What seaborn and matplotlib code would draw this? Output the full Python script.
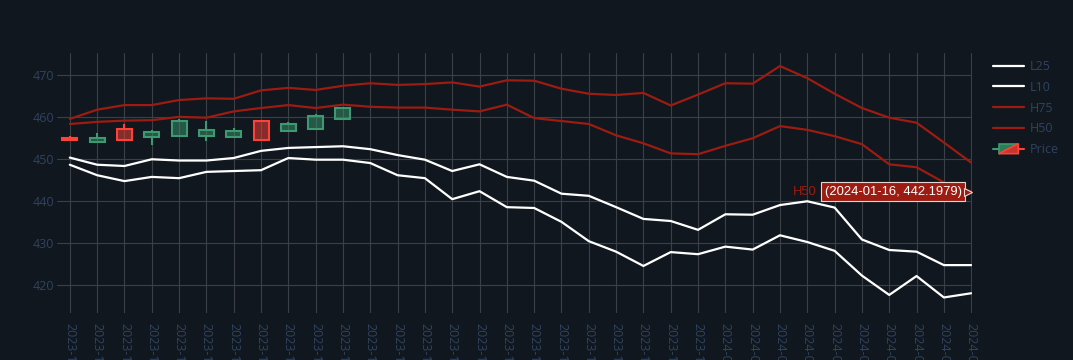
import numpy as np
import pandas as pd
import seaborn as sns
import matplotlib
matplotlib.use("Agg")
import matplotlib.pyplot as plt
import matplotlib.patches as mpatches
import matplotlib.transforms as mtransforms
from matplotlib.lines import Line2D
from matplotlib.legend_handler import HandlerBase

# trading days shown on the categorical x axis
dates = ["2023-11-27", "2023-11-28", "2023-11-29", "2023-11-30", "2023-12-01",
         "2023-12-04", "2023-12-05", "2023-12-06", "2023-12-07", "2023-12-08",
         "2023-12-11", "2023-12-12", "2023-12-13", "2023-12-14", "2023-12-15",
         "2023-12-18", "2023-12-19", "2023-12-20", "2023-12-21", "2023-12-22",
         "2023-12-26", "2023-12-27", "2023-12-28", "2023-12-29", "2024-01-02",
         "2024-01-03", "2024-01-04", "2024-01-05", "2024-01-08", "2024-01-09",
         "2024-01-10", "2024-01-11", "2024-01-12", "2024-01-16"]

l25 = [450.3, 448.6, 448.3, 449.9, 449.6, 449.6, 450.2, 451.9, 452.6, 452.8,
       453.0, 452.3, 450.9, 449.8, 447.1, 448.7, 445.7, 444.8, 441.7, 441.2,
       438.5, 435.7, 435.2, 433.1, 436.8, 436.7, 439.0, 439.9, 438.4, 430.8,
       428.3, 427.9, 424.7, 424.7]
l10 = [448.6, 446.1, 444.7, 445.7, 445.4, 446.9, 447.1, 447.3, 450.2, 449.8,
       449.8, 449.0, 446.1, 445.4, 440.4, 442.3, 438.5, 438.3, 435.0, 430.4,
       427.9, 424.5, 427.8, 427.3, 429.1, 428.4, 431.8, 430.2, 428.1, 422.2,
       417.6, 422.1, 417.0, 418.0]
h75 = [459.5, 461.7, 462.8, 462.8, 464.0, 464.4, 464.3, 466.3, 466.9, 466.4,
       467.4, 468.0, 467.6, 467.8, 468.2, 467.2, 468.7, 468.6, 466.7, 465.5,
       465.2, 465.7, 462.7, 465.3, 468.0, 467.9, 472.1, 469.2, 465.5, 462.1,
       459.8, 458.6, 453.9, 449.1]
h50 = [458.3, 458.8, 459.1, 459.2, 460.0, 459.8, 461.3, 462.1, 462.8, 462.1,
       462.9, 462.4, 462.2, 462.2, 461.7, 461.3, 462.9, 459.7, 459.0, 458.3,
       455.6, 453.7, 451.3, 451.1, 453.1, 454.9, 457.8, 456.9, 455.4, 453.5,
       448.7, 448.0, 444.4, 442.1979]

# candles only for the first sessions
p_open = [454.9, 453.9, 457.2, 455.2, 455.5, 455.4, 455.1, 458.9, 456.7, 457.2, 459.5]
p_high = [455.4, 456.1, 458.2, 456.9, 459.5, 459.1, 457.4, 459.1, 458.7, 460.6, 462.1]
p_low = [454.4, 453.7, 454.3, 453.4, 455.2, 454.3, 455.0, 454.4, 456.5, 457.2, 459.5]
p_close = [454.5, 455.0, 454.5, 456.5, 459.1, 456.8, 456.6, 454.6, 458.3, 460.3, 462.0]

BG = "#10171e"
GRID = "#3b4046"
TXT = "#2f4360"
RED = "#9c1c12"
UP = "#3d9970"
DOWN = "#ff4136"

lines = pd.DataFrame({"x": np.arange(len(dates)), "L25": l25, "L10": l10,
                      "H75": h75, "H50": h50})
long = lines.melt(id_vars="x", var_name="series", value_name="value")
pal = {"L25": "white", "L10": "white", "H75": RED, "H50": RED}

sns.set_style("dark")
plt.rcParams["font.family"] = ["Open Sans", "DejaVu Sans"]

fig = plt.figure(figsize=(10.73, 3.6), dpi=100, facecolor=BG)
ax = fig.add_axes([57 / 1073, 1 - 313 / 360, (972 - 57) / 1073, (313 - 53) / 360])
ax.set_facecolor(BG)

sns.lineplot(data=long, x="x", y="value", hue="series", palette=pal,
             linewidth=1.6, ax=ax, legend=True, zorder=3)

# candlesticks
for i in range(len(p_open)):
    o, h, l, c = p_open[i], p_high[i], p_low[i], p_close[i]
    col = UP if c >= o else DOWN
    lo_b, hi_b = min(o, c), max(o, c)
    ax.vlines(i, l, lo_b, color=col, lw=1.5, zorder=4)
    ax.vlines(i, hi_b, h, color=col, lw=1.5, zorder=4)
    ax.bar(i, hi_b - lo_b, bottom=lo_b, width=0.55, color=col, alpha=0.5,
           zorder=4, linewidth=0)
    ax.bar(i, hi_b - lo_b, bottom=lo_b, width=0.55, fill=False,
           edgecolor=col, linewidth=1.5, zorder=5)

ax.set_xlim(-0.47, len(dates) - 0.97)
ax.set_ylim(413.3, 475.2)
ax.set_xticks(np.arange(len(dates)))
ax.set_xticklabels(dates, rotation=-90, ha="center", va="top")
ax.set_yticks([420, 430, 440, 450, 460, 470])
ax.tick_params(axis="both", length=0, colors=TXT, labelsize=9)
ax.tick_params(axis="x", pad=7)
ax.tick_params(axis="y", pad=2)
ax.grid(True, color=GRID, linewidth=0.8)
ax.set_axisbelow(True)
for s in ax.spines.values():
    s.set_visible(False)
ax.set_xlabel("")
ax.set_ylabel("")

# hover label for the last H50 point
ax.annotate(f"({dates[-1]}, {h50[-1]:.4f})", xy=(len(dates) - 1, h50[-1]),
            xytext=(-6.8, 0), textcoords="offset points", ha="right", va="center",
            color="white", fontsize=9.4, family=["Liberation Sans", "DejaVu Sans"],
            bbox=dict(boxstyle="square,pad=0.25", fc=RED, ec="#e8d6d3", lw=0.8),
            zorder=10)
notch = mtransforms.offset_copy(ax.transData, fig=fig, x=-2.6, y=0, units="points")
ax.plot([len(dates) - 1], [h50[-1]], marker=">", ms=5.5, color=RED, mec="#e8d6d3",
        mew=0.8, transform=notch, zorder=11, clip_on=False)
ax.annotate("H50", xy=(len(dates) - 1, h50[-1]), xytext=(-111, 0),
            textcoords="offset points", ha="right", va="center", color=RED,
            fontsize=9.4, family=["Liberation Sans", "DejaVu Sans"], zorder=10)


class CandleHandler(HandlerBase):
    def create_artists(self, legend, orig_handle, xdescent, ydescent, width,
                       height, fontsize, trans):
        x0 = -xdescent
        cy = height / 2 - ydescent
        bw = width * 0.62
        bh = height * 1.15
        bx = x0 + (width - bw) / 2
        by = cy - bh / 2
        g = mpatches.Polygon([(bx, by), (bx, by + bh), (bx + bw, by + bh)],
                             closed=True, fc="#2f7a58", ec=UP, lw=1.2)
        r = mpatches.Polygon([(bx, by), (bx + bw, by + bh), (bx + bw, by)],
                             closed=True, fc="#c7352e", ec=DOWN, lw=1.2)
        wl = Line2D([x0, bx], [cy, cy], color=UP, lw=1.5)
        wr = Line2D([bx + bw, x0 + width], [cy, cy], color=DOWN, lw=1.5)
        arts = [wl, wr, g, r]
        for a in arts:
            a.set_transform(trans)
        return arts


handles, labels = ax.get_legend_handles_labels()
ax.get_legend().remove()
price_handle = mpatches.Patch()
handles = list(handles) + [price_handle]
labels = list(labels) + ["Price"]
leg = fig.legend(handles, labels, loc="upper left",
                 bbox_to_anchor=(993 / 1073, 1 - 60 / 360),
                 frameon=False, fontsize=9, labelcolor=TXT,
                 handlelength=2.5, handletextpad=0.45, labelspacing=0.62,
                 borderpad=0, borderaxespad=0,
                 handler_map={price_handle: CandleHandler()})

fig.savefig("out.png", dpi=100, facecolor=BG)
